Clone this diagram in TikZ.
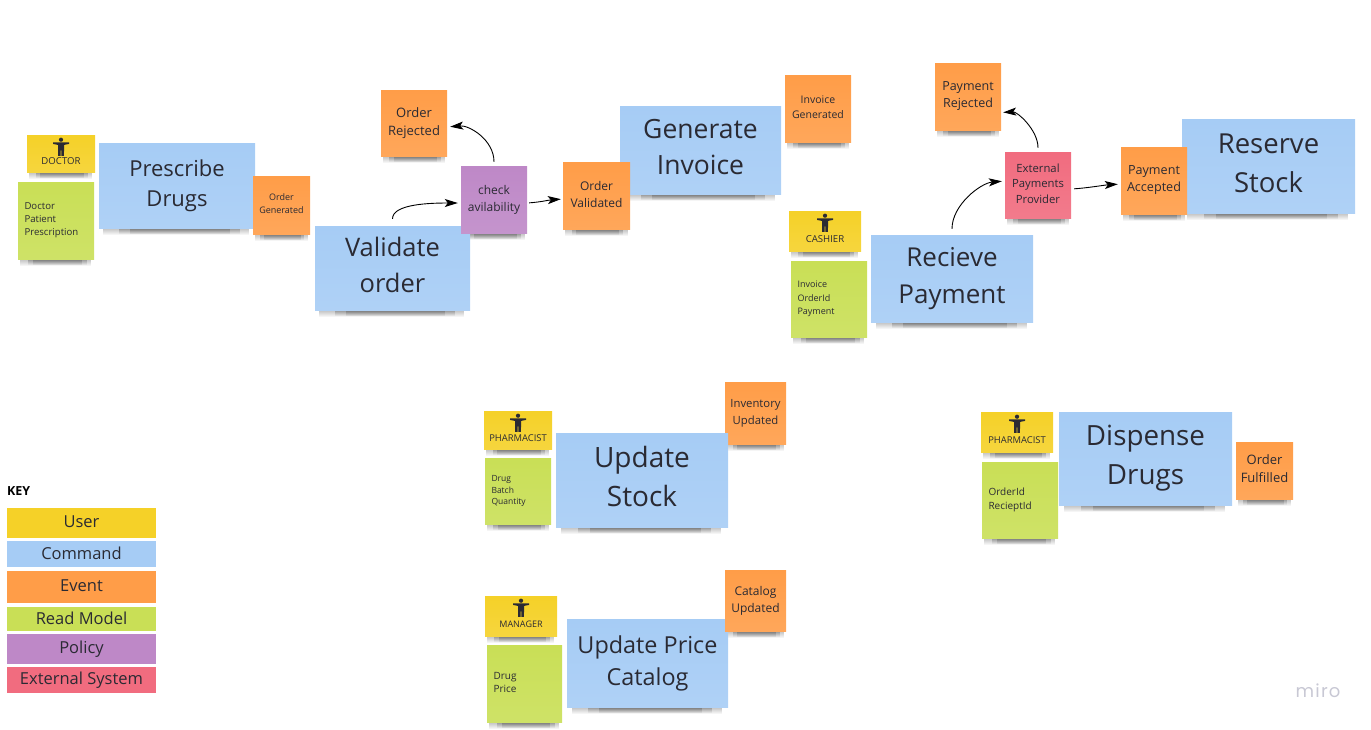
\documentclass[tikz,border=0pt]{standalone}
\usepackage{fontspec}
\setmainfont{Open Sans}
\newfontfamily\logofont[LetterSpace=7]{Poppins}
\usepackage{xcolor}
\usepackage{tikz}
\usetikzlibrary{calc,%
  fadings,%
  backgrounds,%
  arrows.meta%
}
\definecolor{usercol}{HTML}{F5D128}
\definecolor{commandcol}{HTML}{A6CCF5}
\definecolor{eventcol}{HTML}{FF9D48}
\definecolor{readcol}{HTML}{C9DF56}
\definecolor{policycol}{HTML}{BE88C7}
\definecolor{externalcol}{HTML}{F16C7F}
\definecolor{inkcol}{HTML}{2A2A33}
\definecolor{logocol}{HTML}{C8C8D4}
\newcommand{\fs}[2]{\fontsize{#1}{#2}\selectfont}
\tikzfading[name=stripfade,top color=transparent!0,bottom color=transparent!100]

\begin{document}
\begin{tikzpicture}[x=1pt,y=-1pt,
    note/.style={inner sep=0pt,text=inkcol,align=center,top color=#1,bottom color=#1!90!white,
      execute at end node={\rule[-.24em]{0pt}{0pt}}},
    command/.style={note=commandcol},
    event/.style={note=eventcol},
    policy/.style={note=policycol},
    external/.style={note=externalcol},
    user/.style={note=usercol,font=\fs{9.6}{12}},
    readmodel/.style={note=readcol,align=left,inner xsep=6.5pt},
    keyrow/.style={inner sep=0pt,text=inkcol,minimum width=149pt,font=\fs{16.5}{20},
      execute at end node={\rule[-.12em]{0pt}{0pt}}},
    flow/.style={black,line width=.9pt,-{Stealth[length=13pt,width=8pt,inset=3pt]}},
    softshadow/.style={fill=black!80,fill opacity=.3,path fading=stripfade},
    actor/.pic={
      \fill[inkcol] (0,-7.6) circle (2.1);
      \fill[inkcol] (-8,-5) -- (8,-5) -- (8,-3.4) -- (3,-2.4) -- (3,4) -- (2.8,8.6) -- (.4,8.6) -- (.3,3) -- (-.3,3) -- (-.4,8.6)
        -- (-2.8,8.6) -- (-3,4) -- (-3,-2.4) -- (-8,-3.4) -- cycle;
    }]
  \useasboundingbox (0,0) rectangle (1371,729);

  \node[user,minimum width=68pt,minimum height=37pt] (doctor) at (61,153.5) {\rule{0pt}{13pt}\\DOCTOR};
  \node[readmodel,text width=63pt,minimum height=77pt,font=\fs{9.6}{13}] (doctorread) at (56,220.5) {Doctor\\Patient\\Prescription};
  \node[command,minimum width=156pt,minimum height=85pt,font=\fs{22}{30}] (prescribe) at (177,185.5) {Prescribe\\Drugs};
  \node[event,minimum width=57pt,minimum height=58pt,font=\fs{9}{13}] (generated) at (281.5,205) {Order\\Generated};

  \node[command,minimum width=155pt,minimum height=84pt,font=\fs{25.5}{35.5}] (validate) at (392.5,268) {Validate\\order};
  \node[policy,minimum width=66pt,minimum height=67pt,font=\fs{12}{17}] (check) at (494,199.5) {check\\avilability};
  \node[event,minimum width=66pt,minimum height=66pt,font=\fs{13}{18}] (rejected) at (414,123) {Order\\Rejected};
  \node[command,minimum width=161pt,minimum height=88pt,font=\fs{26.5}{36.5}] (invoice) at (700.5,150) {Generate\\Invoice};
  \node[event,minimum width=67pt,minimum height=67pt,font=\fs{12}{17}] (validated) at (596.5,195.5) {Order\\Validated};
  \node[event,minimum width=66pt,minimum height=67pt,font=\fs{10.5}{15}] (invoiced) at (818,108.5) {Invoice\\Generated};

  \node[user,minimum width=72pt,minimum height=40pt] (cashier) at (825,231) {\rule{0pt}{13pt}\\CASHIER};
  \node[readmodel,text width=63pt,minimum height=76pt,font=\fs{9}{13.5}] (cashierread) at (829,299) {Invoice\\OrderId\\Payment};
  \node[command,minimum width=162pt,minimum height=87pt,font=\fs{26}{37}] (recieve) at (952,278.5) {Recieve\\Payment};
  \node[external,minimum width=66pt,minimum height=66pt,font=\fs{11.3}{15.5}] (provider) at (1038,185) {External\\Payments\\Provider};
  \node[event,minimum width=66pt,minimum height=67pt,font=\fs{12.5}{17}] (payrejected) at (968,96.5) {Payment\\Rejected};
  \node[command,minimum width=173pt,minimum height=94pt,font=\fs{27.5}{39}] (reserve) at (1268.5,166) {Reserve\\Stock};
  \node[event,minimum width=66pt,minimum height=67pt,font=\fs{12.6}{17}] (accepted) at (1154,180.5) {Payment\\Accepted};

  \node[user,minimum width=68pt,minimum height=38pt,font=\fs{9.4}{12}] (pharmacistA) at (518,430) {\rule{0pt}{13pt}\\PHARMACIST};
  \node[readmodel,text width=53pt,minimum height=66pt,font=\fs{8.5}{11.5}] (stockread) at (518,491) {Drug\\Batch\\Quantity};
  \node[event,minimum width=61pt,minimum height=62pt,font=\fs{11.3}{17}] (inventory) at (755.5,413) {Inventory\\Updated};
  \node[command,minimum width=172pt,minimum height=94pt,font=\fs{28}{39}] (stock) at (642,480) {Update\\Stock};

  \node[user,minimum width=72pt,minimum height=40pt,font=\fs{9.4}{12}] (pharmacistB) at (1017,432) {\rule{0pt}{13pt}\\PHARMACIST};
  \node[readmodel,text width=63pt,minimum height=76pt,font=\fs{10}{14}] (dispenseread) at (1020,500) {OrderId\\RecieptId};
  \node[command,minimum width=173pt,minimum height=93pt,font=\fs{27.8}{39}] (dispense) at (1145.5,458.5) {Dispense\\Drugs};
  \node[event,minimum width=57pt,minimum height=57pt,font=\fs{13}{18}] (fulfilled) at (1264.5,470.5) {Order\\Fulfilled};

  \node[user,minimum width=72pt,minimum height=40pt,font=\fs{9}{12}] (manager) at (521,616) {\rule{0pt}{13pt}\\MANAGER};
  \node[readmodel,text width=62pt,minimum height=77pt,font=\fs{10}{13}] (priceread) at (524.5,683.5) {Drug\\Price};
  \node[command,minimum width=161pt,minimum height=88pt,font=\fs{23.4}{32}] (catalog) at (647.5,663) {Update Price\\Catalog};
  \node[event,minimum width=61pt,minimum height=61pt,font=\fs{12}{17}] (catalogdone) at (755.5,600.5) {Catalog\\Updated};

  \foreach \who in {doctor,cashier,pharmacistA,pharmacistB,manager}
    \pic at ([yshift=-12.5pt]\who.north) {actor};

  \begin{scope}[on background layer]
    \foreach \n in {doctor,doctorread,prescribe,generated,validate,check,rejected,validated,invoice,invoiced,
        cashier,cashierread,recieve,provider,payrejected,accepted,reserve,pharmacistA,stockread,stock,inventory,
        pharmacistB,dispenseread,dispense,fulfilled,manager,priceread,catalog,catalogdone} {
      \fill[softshadow] ($(\n.south west)!.03!(\n.south east)$) rectangle ($(\n.south west)!.96!(\n.south east)+(0,7)$);
      \fill[softshadow] ($(\n.south west)!.13!(\n.south east)$) rectangle ($(\n.south west)!.9!(\n.south east)+(0,6)$);
      \fill[softshadow] ($(\n.south west)!.2!(\n.south east)$) rectangle ($(\n.south west)!.84!(\n.south east)+(0,6)$);
    }
  \end{scope}

  \draw[flow,shorten <=7pt,shorten >=3pt] (validate.north) .. controls +(0,-22) and +(-30,0) .. ([yshift=-3.5pt]check.west);
  \draw[flow,shorten <=4pt,shorten >=3pt] (check.north) .. controls +(0,-26) and +(22,-2) .. ([yshift=-4pt]rejected.east);
  \draw[flow,shorten <=2pt,shorten >=2pt] ([yshift=-3.5pt]check.east) .. controls +(14,-1) and +(-14,1) .. ([yshift=-3.5pt]validated.west);
  \draw[flow,shorten <=6pt,shorten >=3pt] (recieve.north) .. controls +(0,-30) and +(-24,2) .. ([yshift=4pt]provider.west);
  \draw[flow,shorten <=4pt,shorten >=2pt] (provider.north) .. controls +(0,-22) and +(16,-1) .. ([yshift=-16pt]payrejected.east);
  \draw[flow,shorten <=3pt,shorten >=3pt] ([yshift=-4pt]provider.east) .. controls +(16,-1) and +(-16,1) .. ([yshift=-3.5pt]accepted.west);

  \node[anchor=west,inner sep=0pt,text=black,font=\fs{12.5}{14}\bfseries] (keytitle) at (7,491.5) {KEY};
  \node[keyrow,fill=usercol,minimum height=30pt] (keyuser) at (81.5,523) {User};
  \node[keyrow,fill=commandcol,minimum height=26pt] (keycommand) at (81.5,554) {Command};
  \node[keyrow,fill=eventcol,minimum height=32pt] (keyevent) at (81.5,587) {Event};
  \node[keyrow,fill=readcol,minimum height=24pt] (keyread) at (81.5,619) {Read Model};
  \node[keyrow,fill=policycol,minimum height=30pt] (keypolicy) at (81.5,649) {Policy};
  \node[keyrow,fill=externalcol,minimum height=26pt] (keyexternal) at (81.5,680) {External System};

  \node[inner sep=0pt,text=logocol,font=\logofont\fs{18}{20}] (logo) at (1318,691) {miro};
\end{tikzpicture}
\end{document}
